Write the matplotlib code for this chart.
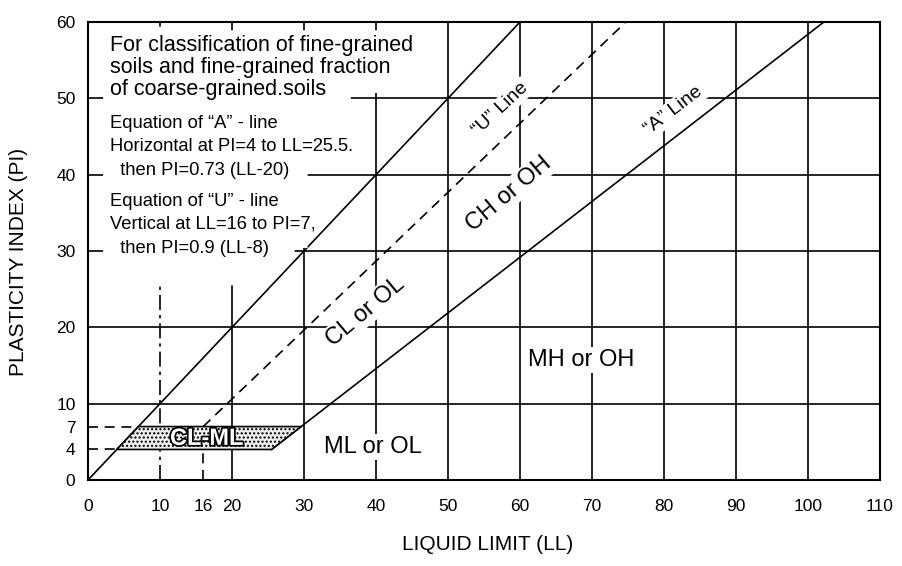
import matplotlib
matplotlib.use("Agg")
import matplotlib.pyplot as plt
from matplotlib.patches import Polygon
import matplotlib.patheffects as pe

plt.rcParams['font.family'] = ['Liberation Sans', 'DejaVu Sans']

# axis ticks and grid (LL = liquid limit, PI = plasticity index)
ll_ticks = [0, 10, 16, 20, 30, 40, 50, 60, 70, 80, 90, 100, 110]
pi_ticks = [0, 4, 7, 10, 20, 30, 40, 50, 60]
grid_ll = [20, 30, 40, 50, 60, 70, 80, 90, 100]
grid_pi = [10, 20, 30, 40, 50]
dashdot_ll = 10

# boundary lines, end points
limit_ll, limit_pi = [0, 60], [0, 60]
u_ll, u_pi = [16, 74.7], [7, 60]
u_vert_ll, u_vert_pi = [16, 16], [0, 7]
a_ll, a_pi = [25.5, 102.2], [4, 60]
clml_ll = [4, 25.5, 29.6, 7]
clml_pi = [4, 4, 7, 7]
dash4_ll, dash4_pi = [0, 4], [4, 4]
dash7_ll, dash7_pi = [0, 7], [7, 7]

title_lines = ["For classification of fine-grained",
               "soils and fine-grained fraction",
               "of coarse-grained.soils"]
eq_lines = ["Equation of \u201cA\u201d - line",
            "Horizontal at PI=4 to LL=25.5.",
            "  then PI=0.73 (LL-20)",
            "Equation of \u201cU\u201d - line",
            "Vertical at LL=16 to PI=7,",
            "  then PI=0.9 (LL-8)"]
zones = [("CL or OL", 38.5, 22.0, 40),
         ("CH or OH", 58.5, 37.5, 40),
         ("MH or OH", 68.5, 15.7, 0),
         ("ML or OL", 39.5, 4.3, 0)]
line_names = [("\u201cU\u201d Line", 57.3, 48.6, 43),
              ("\u201cA\u201d Line", 81.3, 48.4, 37.5)]

fig = plt.figure(figsize=(9.03, 5.66), dpi=100)
ax = fig.add_axes([88 / 903, 1 - 480 / 566, 792 / 903, 458 / 566])
ax.set_xlim(0, 110)
ax.set_ylim(0, 60)

for v in grid_ll:
    ax.axvline(v, color='black', lw=1.2, zorder=1)
for h in grid_pi:
    ax.axhline(h, color='black', lw=1.2, zorder=1)
ax.axvline(dashdot_ll, color='black', lw=1.2, ls=(0, (9, 3, 2, 3)), zorder=1)

ax.plot(limit_ll, limit_pi, color='black', lw=1.2, zorder=1.5)
ax.plot(a_ll, a_pi, color='black', lw=1.2, zorder=1.5)
ax.plot(u_ll, u_pi, color='black', lw=1.2, ls=(0, (6, 4)), zorder=1.5)
ax.plot(u_vert_ll, u_vert_pi, color='black', lw=1.2, ls=(0, (6, 4)), zorder=1.5)
ax.plot(dash4_ll, dash4_pi, color='black', lw=1.2, ls=(0, (6, 4)), zorder=1.5)
ax.plot(dash7_ll, dash7_pi, color='black', lw=1.2, ls=(0, (6, 4)), zorder=1.5)

# CL-ML zone (stippled)
plt.rcParams['hatch.linewidth'] = 1.0
ax.add_patch(Polygon(list(zip(clml_ll, clml_pi)), closed=True, facecolor='#eeeeee',
                     edgecolor='black', hatch='....', lw=1.2, zorder=3))
ax.text(16.5, 5.45, "CL-ML", fontsize=17, fontweight='bold', color='white',
        ha='center', va='center', zorder=4,
        path_effects=[pe.withStroke(linewidth=2.5, foreground='black')])

# white area behind the notes, hides grid as in the original
mask = [(2.1, 58.9), (46.5, 58.9), (46.5, 50.7), (36.5, 50.7), (36.5, 42.0),
        (30.5, 42.0), (30.5, 30.4), (28.7, 30.4), (28.7, 29.5), (24.5, 25.5),
        (2.1, 25.5)]
ax.add_patch(Polygon(mask, closed=True, facecolor='white', edgecolor='none', zorder=2))

for i, s in enumerate(title_lines):
    ax.text(3.0, 56.9 - i * 2.85, s, fontsize=15.5, ha='left', va='center', zorder=4)
eq_y = [46.7, 43.7, 40.6, 36.5, 33.5, 30.3]
for s, y in zip(eq_lines, eq_y):
    ax.text(3.0, y, s, fontsize=13.2, ha='left', va='center', zorder=4)

box = dict(facecolor='white', edgecolor='none', pad=1.5)
for s, x, y, r in zones:
    ax.text(x, y, s, fontsize=17, rotation=r, rotation_mode='anchor',
            ha='center', va='center', bbox=box, zorder=4)
for s, x, y, r in line_names:
    ax.text(x, y, s, fontsize=14, rotation=r, rotation_mode='anchor',
            ha='center', va='center', bbox=box, zorder=4)

ax.set_xticks(ll_ticks)
ax.set_yticks(pi_ticks)
ax.tick_params(axis='x', length=0, pad=14, labelsize=12.5)
ax.tick_params(axis='y', length=0, pad=9, labelsize=12.5)
for sp in ax.spines.values():
    sp.set_linewidth(1.5)

fig.text(488 / 903, 1 - 545 / 566, "LIQUID LIMIT (LL)", fontsize=15, ha='center', va='center')
fig.text(19 / 903, 1 - 262 / 566, "PLASTICITY INDEX (PI)", fontsize=15, rotation=90,
         ha='center', va='center')

fig.savefig("out.png", dpi=100)
